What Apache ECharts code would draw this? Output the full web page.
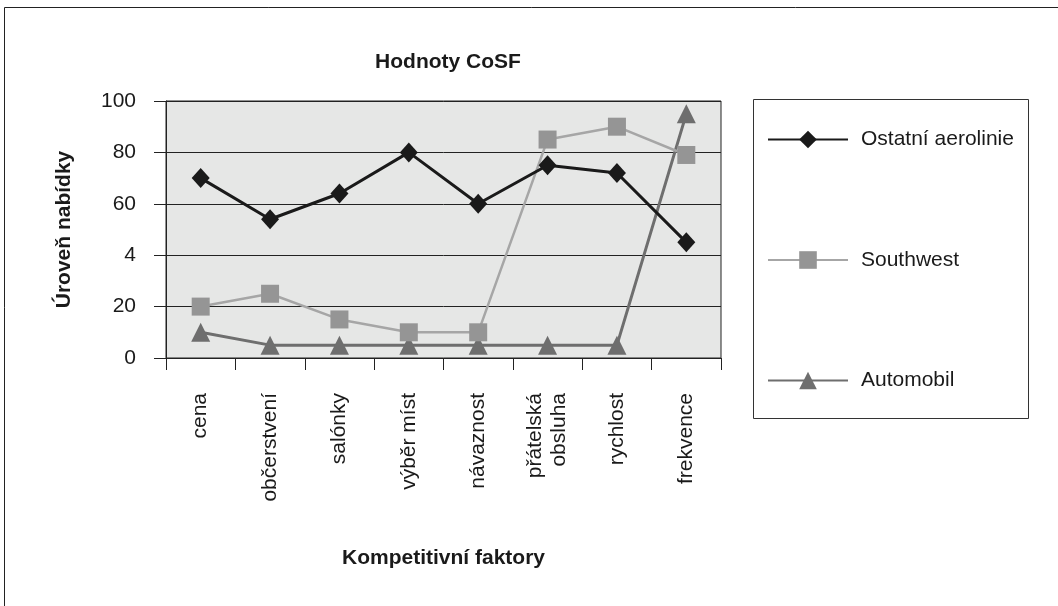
<!DOCTYPE html>
<html>
<head>
<meta charset="utf-8">
<script src="https://cdn.jsdelivr.net/npm/echarts@6/dist/echarts.min.js"></script>
<style>
html,body{margin:0;padding:0;background:#fff;}
#chart{width:1058px;height:606px;}
</style>
</head>
<body>
<div id="chart"></div>
<script>
const categories = ['cena', 'občerstvení', 'salónky', 'výběr míst', 'návaznost', 'přátelská\nobsluha', 'rychlost', 'frekvence'];
const ostatniAerolinie = [70, 54, 64, 80, 60, 75, 72, 45];
const southwest = [20, 25, 15, 10, 10, 85, 90, 79];
const automobil = [10, 5, 5, 5, 5, 5, 5, 95];
const yTickValues = [0, 20, 40, 60, 80, 100];
const yTickLabels = ['0', '20', '4', '60', '80', '100'];

const FONT = 'Liberation Sans, Arial, sans-serif';
const chart = echarts.init(document.getElementById('chart'));
chart.setOption({
  backgroundColor: '#ffffff',
  animation: false,
  title: {
    text: 'Hodnoty CoSF',
    left: 443,
    textAlign: 'center',
    top: 47,
    textStyle: { fontFamily: FONT, fontSize: 21, fontWeight: 'bold', color: '#1a1a1a' }
  },
  graphic: [
    { type: 'rect', shape: { x: 4.5, y: 7.5, width: 1100, height: 700 }, style: { fill: 'none', stroke: '#222', lineWidth: 1 }, silent: true },
    { type: 'rect', shape: { x: 753.5, y: 99.5, width: 275, height: 319 }, style: { fill: '#fff', stroke: '#333', lineWidth: 1 }, silent: true, z: -1 }
  ],
  legend: {
    orient: 'vertical',
    left: 767,
    top: 129,
    padding: 0,
    itemWidth: 80,
    itemHeight: 22,
    itemGap: 99.5,
    textStyle: { fontFamily: FONT, fontSize: 21, color: '#1a1a1a', padding: [0, 0, 0, 8] },
    data: ['Ostatní aerolinie', 'Southwest', 'Automobil']
  },
  grid: {
    left: 166, top: 101, width: 555, height: 257,
    show: true, backgroundColor: '#e6e7e6', borderColor: '#222', borderWidth: 1
  },
  xAxis: {
    type: 'category',
    data: categories,
    boundaryGap: true,
    name: 'Kompetitivní faktory',
    nameLocation: 'middle',
    nameGap: 190,
    nameTextStyle: { fontFamily: FONT, fontSize: 21, fontWeight: 'bold', color: '#1a1a1a' },
    axisLine: { lineStyle: { color: '#222', width: 1 } },
    axisTick: { show: true, length: 12, interval: 0, alignWithLabel: false, lineStyle: { color: '#222' } },
    axisLabel: { interval: 0, rotate: 90, margin: 35, fontFamily: FONT, fontSize: 21, color: '#1a1a1a', lineHeight: 24 },
    splitLine: { show: false }
  },
  yAxis: {
    type: 'value',
    min: 0, max: 100, interval: 20,
    name: 'Úroveň nabídky',
    nameLocation: 'middle',
    nameGap: 91,
    nameRotate: 90,
    nameTextStyle: { fontFamily: FONT, fontSize: 21, fontWeight: 'bold', color: '#1a1a1a' },
    axisLine: { show: true, lineStyle: { color: '#222', width: 1 } },
    axisTick: { show: true, length: 12, lineStyle: { color: '#222' } },
    axisLabel: {
      margin: 30, fontFamily: FONT, fontSize: 21, color: '#1a1a1a',
      formatter: function (v) { const i = yTickValues.indexOf(v); return i >= 0 ? yTickLabels[i] : ''; }
    },
    splitLine: { show: true, lineStyle: { color: '#222', width: 1 } }
  },
  series: [
    {
      name: 'Ostatní aerolinie', type: 'line', data: ostatniAerolinie,
      symbol: 'diamond', symbolSize: [18, 20], z: 4,
      lineStyle: { color: '#1a1a1a', width: 3 },
      itemStyle: { color: '#1a1a1a' }
    },
    {
      name: 'Southwest', type: 'line', data: southwest,
      symbol: 'rect', symbolSize: 18, z: 3,
      lineStyle: { color: '#a6a6a6', width: 2.5 },
      itemStyle: { color: '#959595' }
    },
    {
      name: 'Automobil', type: 'line', data: automobil,
      symbol: 'triangle', symbolSize: 19, z: 2,
      lineStyle: { color: '#6e6e6e', width: 3 },
      itemStyle: { color: '#6e6e6e' }
    }
  ]
});
</script>
</body>
</html>
